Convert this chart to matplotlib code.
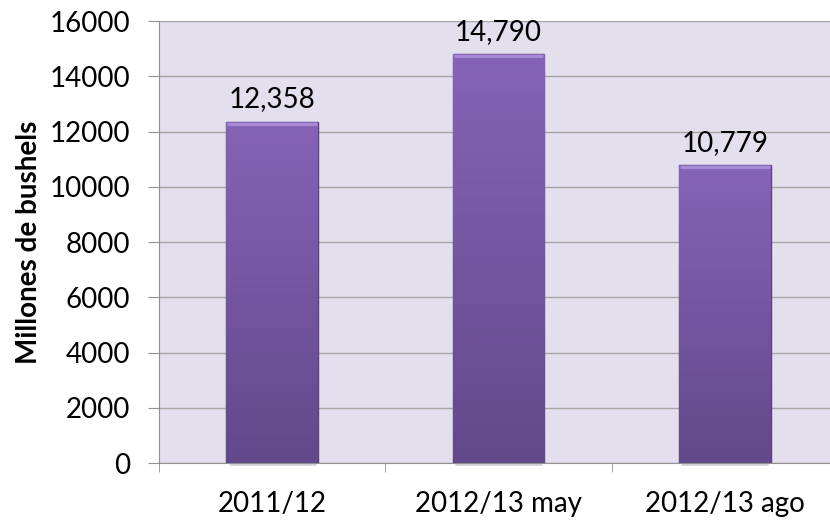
import numpy as np
import matplotlib.pyplot as plt
from matplotlib.colors import LinearSegmentedColormap

plt.rcParams['font.family'] = ['Lato', 'DejaVu Sans']

categories = ["2011/12", "2012/13 may", "2012/13 ago"]
values = [12358, 14790, 10779]
value_labels = ["12,358", "14,790", "10,779"]
y_ticks = [0, 2000, 4000, 6000, 8000, 10000, 12000, 14000, 16000]

fig = plt.figure(figsize=(8.3, 5.27), dpi=100)
# plot area runs a little past the right edge of the picture, as in the original
ax = fig.add_axes([0.1916, 0.1214, 0.818, 0.8387])
ax.set_facecolor("#E4DFEC")

x = np.arange(len(categories))
bar_w = 0.405
bars = ax.bar(x, values, width=bar_w, color="#7558A0", edgecolor="#58407E",
              linewidth=1.0, zorder=3)

# vertical gradient on each bar
cmap = LinearSegmentedColormap.from_list("purp", ["#62498A", "#8663B6"])
grad = np.linspace(0, 1, 256).reshape(-1, 1)
for b in bars:
    x0, w, h = b.get_x(), b.get_width(), b.get_height()
    im = ax.imshow(grad, cmap=cmap, aspect="auto", origin="lower",
                   extent=[x0, x0 + w, 0, h], zorder=3.5)
    im.set_clip_path(b)
    # light top bevel
    ax.plot([x0 + 0.005, x0 + w - 0.005], [h - 70, h - 70], color="#A68AD6", lw=2.2,
            zorder=4, solid_capstyle="butt")
    # soft shadow under the bar
    ax.plot([x0 + 0.01, x0 + w - 0.01], [-50, -50], color="#D6D2DA", lw=2,
            zorder=2, clip_on=False, solid_capstyle="butt")

for xi, v, lab in zip(x, values, value_labels):
    ax.text(xi, v + 800, lab, ha="center", va="center", fontsize=20, color="black")

ax.set_xlim(-0.5, 2.5)
ax.set_ylim(0, 16000)
ax.set_yticks(y_ticks)
ax.set_yticklabels([str(t) for t in y_ticks], fontsize=20)
ax.set_xticks(x)
ax.set_xticklabels(categories, fontsize=20)
ax.tick_params(axis="x", length=0, pad=20)
ax.set_xticks([-0.5, 0.5, 1.5, 2.5], minor=True)
ax.tick_params(axis="x", which="minor", length=6.5, color="#909090", direction="out")
ax.tick_params(axis="y", length=8, color="#909090", direction="out", pad=13)

ax.grid(axis="y", color="#A6A6A6", linewidth=1.0, zorder=1)
ax.set_axisbelow(True)
for s in ["top", "right"]:
    ax.spines[s].set_visible(False)
ax.spines["left"].set_color("#909090")
ax.spines["bottom"].set_color("#909090")

ax.set_ylabel("Millones de bushels", fontsize=20, fontweight="bold", labelpad=5)

fig.savefig("out.png", dpi=100)
